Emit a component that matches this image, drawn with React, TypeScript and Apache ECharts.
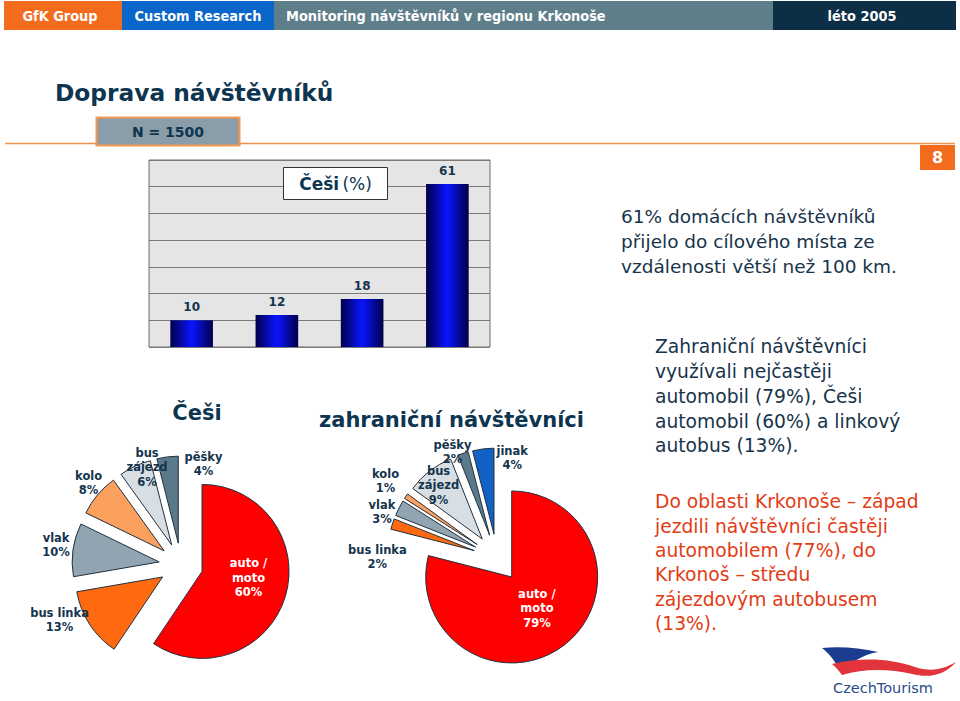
import React, { useEffect, useRef } from 'react';
import * as echarts from 'echarts';

// ---------- data ----------
const BAR_CATEGORIES = ['do 20 km', '21–50 km', '51–100 km', 'nad 100 km'];
const BAR_VALUES = [10, 12, 18, 61];
const BAR_Y_MAX = 70;
const BAR_Y_INTERVAL = 10;

const CZ_NAMES = ['auto / moto', 'bus linka', 'vlak', 'kolo', 'bus zájezd', 'pěšky'];
const CZ_VALUES = [60, 13, 10, 8, 6, 4];

const FOREIGN_NAMES = ['auto / moto', 'bus linka', 'vlak', 'kolo', 'bus zájezd', 'pěšky', 'jinak'];
const FOREIGN_VALUES = [79, 2, 3, 1, 9, 2, 4];

const HEADER_TEXTS = ['GfK Group', 'Custom Research', 'Monitoring návštěvníků v regionu Krkonoše', 'léto 2005'];
const TITLE = 'Doprava návštěvníků';
const SAMPLE = 'N = 1500';
const NOTE_1 = '61% domácích návštěvníků\npřijelo do cílového místa ze\nvzdálenosti větší než 100 km.';
const NOTE_2 = 'Zahraniční návštěvníci\nvyužívali nejčastěji\nautomobil (79%), Češi\nautomobil (60%) a linkový\nautobus (13%).';
const NOTE_3 = 'Do oblasti Krkonoše – západ\njezdili návštěvníci častěji\nautomobilem (77%), do\nKrkonoš – středu\nzájezdovým autobusem\n(13%).';

// ---------- styles ----------
const NAVY = '#15344D';
const FONT = '"DejaVu Sans", Verdana, sans-serif';
const FONT_COND = '"DejaVu Sans Condensed", "DejaVu Sans", sans-serif';

const SLICE_COLORS: Record<string, string> = {
  'auto / moto': '#FF0000',
  'bus linka': '#FF6A10',
  'vlak': '#90A4B1',
  'kolo': '#FCA05E',
  'bus zájezd': '#D7DFE4',
  'pěšky': '#5A7A8C',
  'jinak': '#1262C6',
};
const LABEL_TEXT: Record<string, string> = {
  'auto / moto': 'auto /\nmoto',
  'bus linka': 'bus linka',
  'vlak': 'vlak',
  'kolo': 'kolo',
  'bus zájezd': 'bus\nzájezd',
  'pěšky': 'pěšky',
  'jinak': 'jinak',
};
// label nudges (dx, dy) to mimic the original label placement (labels centred)
const CZ_NUDGE = [[2, -7], [-30, -4.5], [-17, -5], [-9, -12], [12, 1], [36, 7]];
const FOREIGN_NUDGE = [[-3, -5], [-15, 33], [-17, 4], [-20.5, -15], [9, 14], [-10.5, -1.5], [29, 9]];

echarts.graphic.registerShape(
  'czLogoBlue',
  echarts.graphic.extendPath('M2,3 C20,1 40,3 58,7 C42,10 30,17 22,30 C18,20 11,10 2,3 Z', {})
);
echarts.graphic.registerShape(
  'czLogoRed',
  echarts.graphic.extendPath(
    'M12,19 C40,12 70,13 95,22 C110,27 122,25 136,17 C124,31 108,33 92,29 C70,24 45,23 22,30 C19,26 16,22 12,19 Z',
    {}
  )
);

function pieSeries(names: string[], values: number[], center: number[], radius: number, offset: number, nudge: number[][]) {
  return {
    type: 'pie',
    center,
    radius,
    startAngle: 90,
    clockwise: true,
    selectedMode: 'multiple',
    selectedOffset: offset,
    avoidLabelOverlap: false,
    emphasis: { disabled: true },
    itemStyle: { borderColor: '#22313F', borderWidth: 1 },
    select: { itemStyle: { borderColor: '#22313F', borderWidth: 1 } },
    label: {
      show: true,
      position: 'outside',
      distanceToLabelLine: 0,
      fontFamily: FONT,
      fontWeight: 'bold',
      fontSize: 11.5,
      lineHeight: 14.5,
      color: NAVY,
      formatter: (p: any) => `${LABEL_TEXT[p.name]}\n${p.value}%`,
    },
    labelLine: { show: false, length: 0, length2: 0 },
    labelLayout: (p: any) => ({ dx: nudge[p.dataIndex][0], dy: nudge[p.dataIndex][1], align: 'center' }),
    data: names.map((n, i) => ({
      name: n,
      value: values[i],
      selected: true,
      itemStyle: { color: SLICE_COLORS[n] },
      label: n === 'auto / moto' ? { position: 'inside', color: '#FFFFFF', align: 'center' } : undefined,
    })),
  };
}

export default function App() {
  const ref = useRef<HTMLDivElement>(null);
  useEffect(() => {
    document.body.style.margin = '0';
    const chart = echarts.init(ref.current!, null, { renderer: 'svg' });
    const headerSegs = [
      { x: 4, w: 118, color: '#F36B1C' },
      { x: 122, w: 152, color: '#0A66C8' },
      { x: 274, w: 499, color: '#5E7E8A' },
      { x: 773, w: 183, color: '#0C2F47' },
    ];
    const graphic: any[] = [];
    headerSegs.forEach((s) =>
      graphic.push({ type: 'rect', shape: { x: s.x, y: 1, width: s.w, height: 29 }, style: { fill: s.color }, z: 1 })
    );
    const headerText = (text: string, x: number, align: string) => ({
      type: 'text', x, y: 15.5, z: 2,
      style: { text, fill: '#FFFFFF', font: `bold 14.4px ${FONT_COND}`, align, verticalAlign: 'middle' },
    });
    graphic.push(headerText(HEADER_TEXTS[0], 60, 'center'));
    graphic.push(headerText(HEADER_TEXTS[1], 198, 'center'));
    graphic.push(headerText(HEADER_TEXTS[2], 286, 'left'));
    graphic.push(headerText(HEADER_TEXTS[3], 862, 'center'));
    // title
    graphic.push({
      type: 'text', x: 55, y: 92, z: 2,
      style: { text: TITLE, fill: '#0E3550', font: `bold 23.3px ${FONT}`, align: 'left', verticalAlign: 'middle' },
    });
    // orange rule
    graphic.push({ type: 'line', shape: { x1: 5, y1: 143.5, x2: 955, y2: 143.5 }, style: { stroke: '#F0924A', lineWidth: 1.5 }, z: 1 });
    // N box
    graphic.push({ type: 'rect', shape: { x: 96.5, y: 117.5, width: 143, height: 28 }, style: { fill: '#8A9DA8', stroke: '#F39A50', lineWidth: 2 }, z: 2 });
    graphic.push({
      type: 'text', x: 168, y: 132, z: 3,
      style: { text: SAMPLE, fill: '#0E3550', font: `bold 14px ${FONT}`, align: 'center', verticalAlign: 'middle' },
    });
    // page number
    graphic.push({ type: 'rect', shape: { x: 920, y: 145, width: 35, height: 25 }, style: { fill: '#F36B1C' }, z: 2 });
    graphic.push({
      type: 'text', x: 937.5, y: 157.5, z: 3,
      style: { text: '8', fill: '#FFFFFF', font: `bold 16px ${FONT}`, align: 'center', verticalAlign: 'middle' },
    });
    // bar chart title box
    graphic.push({ type: 'rect', shape: { x: 283.5, y: 167.5, width: 104, height: 32 }, style: { fill: '#FFFFFF', stroke: '#333333', lineWidth: 1 }, z: 10 });
    graphic.push({
      type: 'text', x: 335.5, y: 184, z: 11,
      style: {
        text: '{b|Češi} {n|(%)}',
        align: 'center', verticalAlign: 'middle',
        rich: {
          b: { fill: '#0E3550', fontFamily: FONT, fontWeight: 'bold', fontSize: 17 },
          n: { fill: '#0E3550', fontFamily: FONT, fontWeight: 'normal', fontSize: 17 },
        },
      },
    });
    // notes
    graphic.push({
      type: 'text', x: 621, y: 203.5, z: 2,
      style: { text: NOTE_1, fill: '#17344B', font: `18.5px ${FONT}`, lineHeight: 25, align: 'left', verticalAlign: 'top' },
    });
    graphic.push({
      type: 'text', x: 655, y: 334.6, z: 2,
      style: { text: NOTE_2, fill: '#17344B', font: `18.7px ${FONT}`, lineHeight: 24.75, align: 'left', verticalAlign: 'top' },
    });
    graphic.push({
      type: 'text', x: 655, y: 489.8, z: 2,
      style: { text: NOTE_3, fill: '#E23C14', font: `18.7px ${FONT}`, lineHeight: 24.3, align: 'left', verticalAlign: 'top' },
    });
    // pie titles
    graphic.push({
      type: 'text', x: 197, y: 413, z: 2,
      style: { text: 'Češi', fill: '#0E3550', font: `bold 21px ${FONT}`, align: 'center', verticalAlign: 'middle' },
    });
    graphic.push({
      type: 'text', x: 451.5, y: 420, z: 2,
      style: { text: 'zahraniční návštěvníci', fill: '#0E3550', font: `bold 21px ${FONT}`, align: 'center', verticalAlign: 'middle' },
    });
    // logo
    graphic.push({ type: 'czLogoBlue', x: 820, y: 645, style: { fill: '#1C3D8F' }, z: 2 });
    graphic.push({ type: 'czLogoRed', x: 820, y: 645, style: { fill: '#E1343C' }, z: 2 });
    graphic.push({
      type: 'text', x: 883, y: 688, z: 2,
      style: { text: 'CzechTourism', fill: '#2A4B8C', font: `14.5px ${FONT}`, align: 'center', verticalAlign: 'middle' },
    });

    chart.setOption({
      animation: false,
      backgroundColor: '#FFFFFF',
      grid: {
        left: 149, right: 470, top: 160, bottom: 354,
        show: true, backgroundColor: '#E5E5E5', borderColor: '#6E6E6E', borderWidth: 1,
      },
      xAxis: {
        type: 'category', data: BAR_CATEGORIES,
        axisLabel: { show: false }, axisTick: { show: false }, axisLine: { show: false },
      },
      yAxis: {
        type: 'value', min: 0, max: BAR_Y_MAX, interval: BAR_Y_INTERVAL,
        axisLabel: { show: false }, axisTick: { show: false }, axisLine: { show: false },
        splitLine: { show: true, lineStyle: { color: '#7A7A7A', width: 1 } },
      },
      graphic,
      series: [
        {
          type: 'bar',
          data: BAR_VALUES,
          barWidth: '50%',
          itemStyle: {
            color: new echarts.graphic.LinearGradient(0, 0, 1, 0, [
              { offset: 0, color: '#00004A' },
              { offset: 0.5, color: '#0A14FF' },
              { offset: 1, color: '#00004A' },
            ]),
          },
          label: {
            show: true, position: 'top', distance: 7,
            color: '#15344D', fontFamily: FONT, fontWeight: 'bold', fontSize: 12,
          },
          emphasis: { disabled: true },
          z: 3,
        },
        pieSeries(CZ_NAMES, CZ_VALUES, [181, 565], 87, 22, CZ_NUDGE),
        pieSeries(FOREIGN_NAMES, FOREIGN_VALUES, [497, 558], 86, 24, FOREIGN_NUDGE),
      ],
    } as any);
    return () => chart.dispose();
  }, []);
  return <div ref={ref} style={{ width: 960, height: 701 }} />;
}
